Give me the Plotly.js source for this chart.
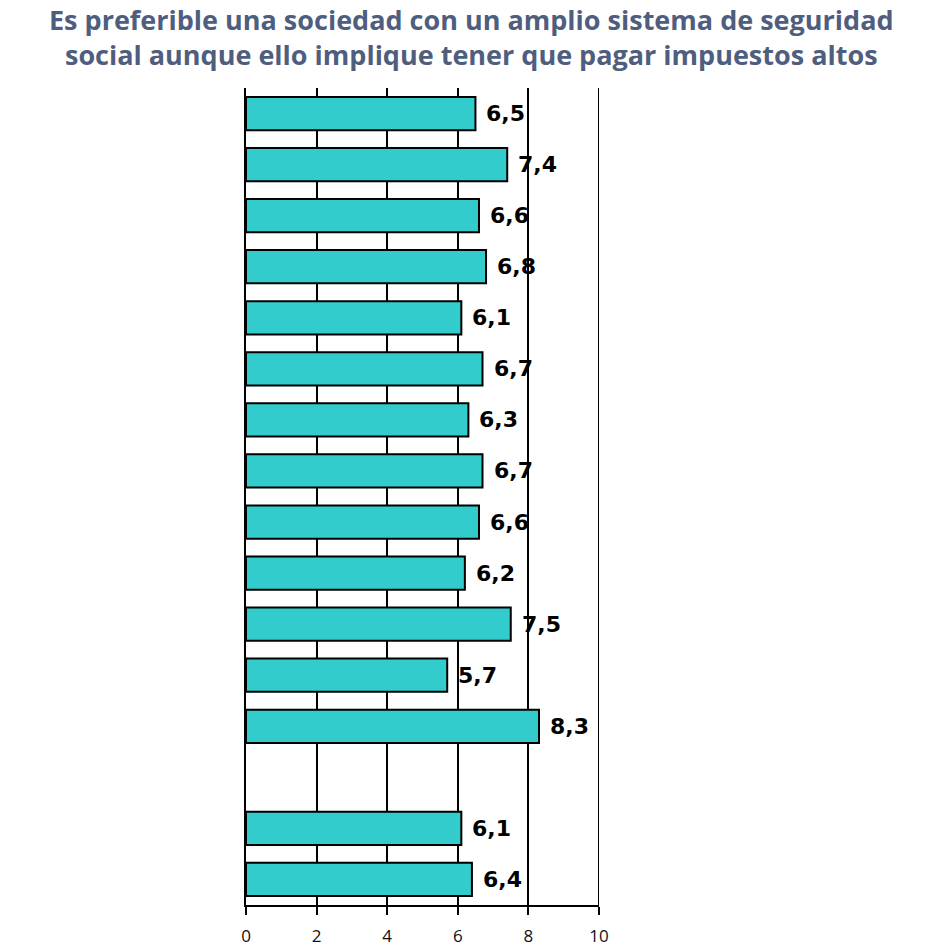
<!DOCTYPE html>
<html>
<head>
<meta charset="utf-8">
<script src="https://cdn.plot.ly/plotly-3.0.1.min.js"></script>
<style>html,body{margin:0;padding:0;background:#fff;}#chart{width:943px;height:946px;}</style>
</head>
<body>
<div id="chart"></div>
<script>
// Categories (labels hidden in the original); " " is the empty slot
const categories = ["G1","G2","G3","G4","G5","G6","G7","G8","G9","G10","G11","G12","G13"," ","G14","G15"];
const values = [6.5, 7.4, 6.6, 6.8, 6.1, 6.7, 6.3, 6.7, 6.6, 6.2, 7.5, 5.7, 8.3, null, 6.1, 6.4];
const xTicks = [0, 2, 4, 6, 8, 10];
const titleLines = [
  "Es preferible una sociedad con un amplio sistema de seguridad",
  "social aunque ello implique tener que pagar impuestos altos"
];

const fmt = v => v.toFixed(1).replace(".", ",");

const W = 943, H = 946;
const M = {l: 246, r: 344, t: 88, b: 41};
const plotW = W - M.l - M.r, plotH = H - M.t - M.b;

const annotations = [];
categories.forEach((c, i) => {
  if (values[i] === null) return;
  annotations.push({
    x: values[i], y: c, xref: "x", yref: "y",
    text: fmt(values[i]), showarrow: false,
    xanchor: "left", yanchor: "middle", xshift: 9,
    font: {family: "DejaVu Sans", size: 22, color: "#000", weight: "bold"}
  });
});

// Title as one centred annotation (page centre)
annotations.push({
  text: titleLines.join("<br>"), showarrow: false,
  xref: "paper", yref: "paper",
  x: (W / 2 - M.l) / plotW, xanchor: "center",
  y: 1 + (M.t - 37) / plotH, yanchor: "middle",
  font: {family: "Open Sans", size: 27, color: "#4f5e7e", weight: "bold"}
});

const trace = {
  type: "bar", orientation: "h",
  x: values, y: categories,
  marker: {color: "#33CCCC", line: {color: "#000", width: 2}},
  hoverinfo: "none"
};

const layout = {
  width: W, height: H,
  margin: M,
  paper_bgcolor: "#fff", plot_bgcolor: "#fff",
  showlegend: false,
  bargap: 0.35,
  xaxis: {
    range: [0, 10], tickvals: xTicks, ticktext: xTicks.map(String),
    showgrid: true, gridcolor: "#000", gridwidth: 2,
    zeroline: false, showline: true, linecolor: "#000", linewidth: 2,
    ticks: "outside", ticklen: 8, tickwidth: 2, tickcolor: "#000",
    ticklabelstandoff: 7,
    tickfont: {family: "Open Sans", size: 17, color: "#111"},
    fixedrange: true
  },
  yaxis: {
    type: "category", categoryorder: "array", categoryarray: categories,
    autorange: "reversed",
    showticklabels: false, showgrid: false, zeroline: false,
    showline: true, linecolor: "#000", linewidth: 2, ticks: "",
    fixedrange: true
  },
  shapes: [{
    type: "line", xref: "x", yref: "paper",
    x0: xTicks[xTicks.length - 1], x1: xTicks[xTicks.length - 1], y0: 0, y1: 1,
    line: {color: "#000", width: 2}, layer: "below"
  }],
  annotations: annotations
};

Plotly.newPlot("chart", [trace], layout, {displayModeBar: false, staticPlot: true});
</script>
</body>
</html>
